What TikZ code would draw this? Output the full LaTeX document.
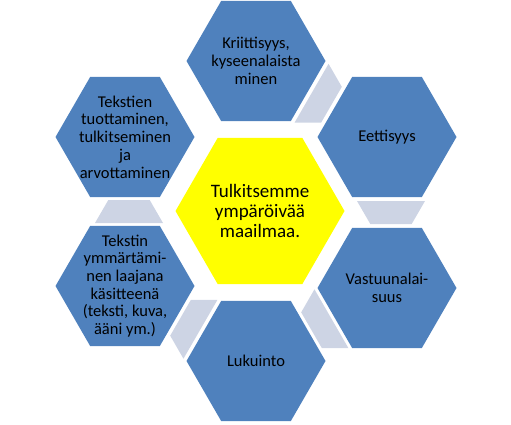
\documentclass[tikz,border=0pt]{standalone}
\usepackage{fontspec}
\setmainfont{Carlito}
\usepackage{tikz}
\usetikzlibrary{shapes.geometric}
\usetikzlibrary{calc}

\definecolor{hexblue}{RGB}{79,129,189}
\definecolor{linkgray}{RGB}{205,212,228}
\definecolor{hexyellow}{RGB}{255,255,0}

\begin{document}
\begin{tikzpicture}[x=1pt,y=1pt]
      \useasboundingbox (0,0) rectangle (511,424);
      \tikzstyle {hexcell} = [shape=regular polygon, regular polygon sides=6, fill=hexblue, inner sep=0pt, outer sep=0pt, minimum size=139pt];
      \tikzstyle {hextext} = [align=center, text=black, font=\fontsize{16.5}{17.7}\selectfont];
      \tikzstyle {linkcell} = [fill=linkgray];
      % centre
      \node (mid) [hexcell, fill=hexyellow, minimum size=169pt] at (260,213) {};
      \node (mid-t) [hextext, font=\fontsize{19}{20}\selectfont] at (mid) {Tulkitsemme\\ympäröivää\\maailmaa.};
      % outer ring
      \node (krit) [hexcell] at (256,363) {};
      \node (krit-t) [hextext] at (krit) {Kriittisyys,\\kyseenalaista\\minen};
      \node (eett) [hexcell] at (387,287) {};
      \node (eett-t) [hextext] at (eett) {Eettisyys};
      \node (vast) [hexcell] at (387,136) {};
      \node (vast-t) [hextext] at (vast) {Vastuunalai-\\suus};
      \node (luku) [hexcell] at (256,63) {};
      \node (luku-t) [hextext] at (luku) {Lukuinto};
      \node (tymm) [hexcell] at (125,138) {};
      \node (tymm-t) [hextext] at (tymm) {Tekstin\\ymmärtämi-\\nen laajana\\käsitteenä\\(teksti, kuva,\\ääni ym.)};
      \node (ttuo) [hexcell] at (125,287) {};
      \node (ttuo-t) [hextext] at (ttuo) {Tekstien\\tuottaminen,\\tulkitseminen\\ja\\arvottaminen};
      % links between neighbours (wide side at the first one)
      \foreach \a/\b/\r/\dx in {krit/eett/-120/0, eett/vast/180/4, vast/luku/120/0, luku/tymm/60/0, tymm/ttuo/0/4}
        \fill [linkcell, shift={($(\a)!0.5!(\b)$)}, xshift=\dx, rotate=\r]
          (-34,-11.5) -- (34,-11.5) -- (20.7,11.5) -- (-20.7,11.5) -- cycle;
\end{tikzpicture}
\end{document}
